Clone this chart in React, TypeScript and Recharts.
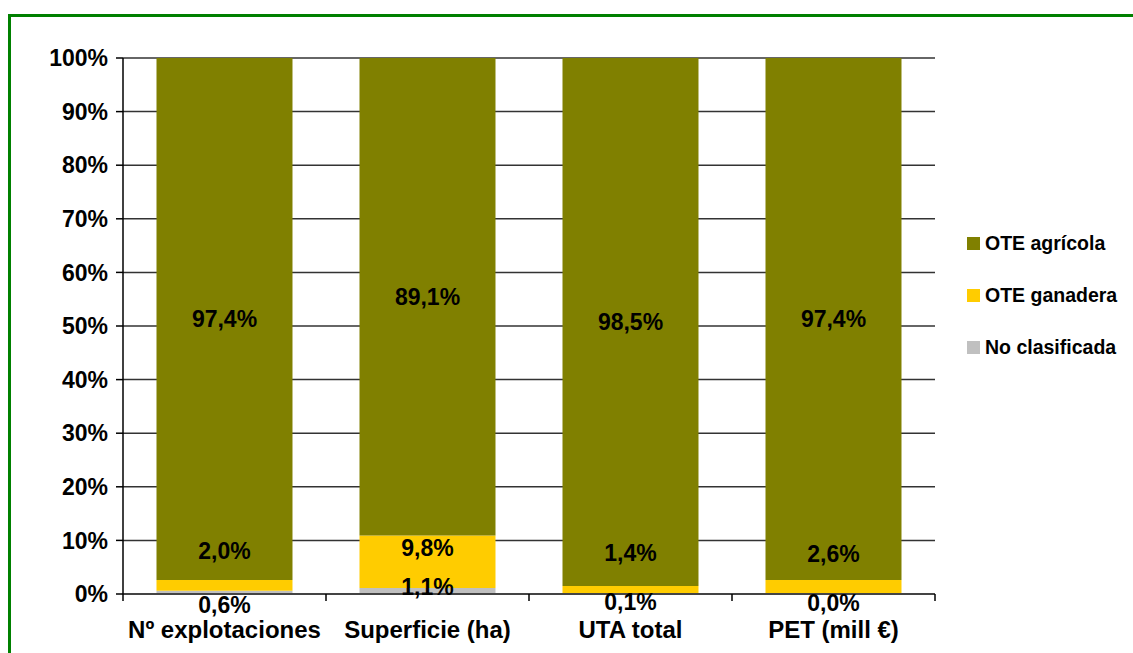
import React from 'react'
import {
  BarChart,
  Bar,
  XAxis,
  YAxis,
  CartesianGrid,
  Legend,
  LabelList,
} from 'recharts'

const categories = ['Nº explotaciones', 'Superficie (ha)', 'UTA total', 'PET (mill €)']
const noClasificada = [0.6, 1.1, 0.1, 0.0]
const oteGanadera = [2.0, 9.8, 1.4, 2.6]
const oteAgricola = [97.4, 89.1, 98.5, 97.4]
const yTicks = [0, 10, 20, 30, 40, 50, 60, 70, 80, 90, 100]

const legendItems = [
  { name: 'OTE agrícola', color: '#808000' },
  { name: 'OTE ganadera', color: '#FFCC00' },
  { name: 'No clasificada', color: '#C0C0C0' },
]

// label nudges for the tiny "No clasificada" segments (px below the base line)
const naLabelShift = [11, -7, 8, 9]

const W = 1133
const H = 653
const PLOT_LEFT = 123
const PLOT_RIGHT = 935
const BAND = (PLOT_RIGHT - PLOT_LEFT) / categories.length
const FONT = '"Liberation Sans", Arial, sans-serif'

const data = categories.map((c, i) => ({
  name: c,
  na: noClasificada[i],
  gan: oteGanadera[i],
  agr: oteAgricola[i],
}))

const fmt = (v: number) => v.toFixed(1).replace('.', ',') + '%'

const labelText = (cx: number, cy: number, v: number) => (
  <text
    x={cx}
    y={cy}
    textAnchor="middle"
    dominantBaseline="central"
    fill="#000"
    fontFamily={FONT}
    fontWeight="bold"
    fontSize={23}
  >
    {fmt(v)}
  </text>
)

const CategoryTick = (props: any) => {
  const { x, y, payload, index } = props
  const left = x - BAND / 2
  const right = x + BAND / 2
  return (
    <g>
      <line x1={left} x2={left} y1={y} y2={y + 7} stroke="#000" strokeWidth={1.5} />
      {index === categories.length - 1 && (
        <line x1={right} x2={right} y1={y} y2={y + 7} stroke="#000" strokeWidth={1.5} />
      )}
      <text
        x={x}
        y={y + 35}
        textAnchor="middle"
        dominantBaseline="central"
        fill="#000"
        fontFamily={FONT}
        fontWeight="bold"
        fontSize={24}
      >
        {payload.value}
      </text>
    </g>
  )
}

// ganadera segment also carries the "No clasificada" label, since a 0 bar gets no label
const GanLabels = (p: any) => {
  const cx = p.x + p.width / 2
  const bottom = p.y + p.height
  const pxPerUnit = p.height / p.value
  const base = bottom + noClasificada[p.index] * pxPerUnit
  return (
    <g>
      {labelText(cx, bottom - 40, p.value)}
      {labelText(cx, base + naLabelShift[p.index], noClasificada[p.index])}
    </g>
  )
}

const LegendBox = () => (
  <div style={{ fontFamily: FONT, fontWeight: 'bold', fontSize: 19.5, color: '#000' }}>
    {legendItems.map((it) => (
      <div key={it.name} style={{ display: 'flex', alignItems: 'center', height: 52 }}>
        <span
          style={{ display: 'inline-block', width: 13, height: 13, background: it.color, marginRight: 5 }}
        />
        <span>{it.name}</span>
      </div>
    ))}
  </div>
)

export default function App() {
  return (
    <div style={{ position: 'absolute', left: 0, top: 0, width: W, height: H, background: '#fff' }}>
      <div
        style={{
          position: 'absolute',
          left: 8,
          top: 14,
          width: W,
          height: H,
          borderTop: '3px solid #008000',
          borderLeft: '3px solid #008000',
        }}
      />
      <div style={{ position: 'absolute', left: 0, top: 0 }}>
        <BarChart
          width={W}
          height={H}
          data={data}
          margin={{ top: 58, right: W - PLOT_RIGHT, bottom: 19, left: 0 }}
          barCategoryGap="16.5%"
        >
          <CartesianGrid vertical={false} stroke="#333" strokeWidth={1.5} yAxisId="l" />
          <XAxis
            dataKey="name"
            height={40}
            tick={<CategoryTick />}
            tickLine={false}
            tickSize={0}
            tickMargin={0}
            interval={0}
            axisLine={{ stroke: '#444', strokeWidth: 2 }}
          />
          <YAxis
            yAxisId="l"
            width={PLOT_LEFT}
            domain={[0, 100]}
            ticks={yTicks}
            interval={0}
            tickFormatter={(v) => `${v}%`}
            tickSize={7}
            tickMargin={8}
            tickLine={{ stroke: '#000', strokeWidth: 1.5 }}
            axisLine={{ stroke: '#000', strokeWidth: 1.5 }}
            tick={{ fill: '#000', fontFamily: FONT, fontWeight: 'bold', fontSize: 23 }}
          />
          <YAxis
            yAxisId="r"
            orientation="right"
            width={0}
            domain={[0, 100]}
            tick={false}
            tickLine={false}
            axisLine={{ stroke: '#000', strokeWidth: 1.5 }}
          />
          <Legend
            layout="vertical"
            align="center"
            verticalAlign="middle"
            wrapperStyle={{ left: 967, top: 217, width: 170, height: 160 }}
            content={<LegendBox />}
          />
          <Bar dataKey="na" stackId="a" yAxisId="l" fill="#C0C0C0" isAnimationActive={false} />
          <Bar dataKey="gan" stackId="a" yAxisId="l" fill="#FFCC00" isAnimationActive={false}>
            <LabelList dataKey="gan" content={GanLabels} />
          </Bar>
          <Bar dataKey="agr" stackId="a" yAxisId="l" fill="#808000" isAnimationActive={false}>
            <LabelList
              dataKey="agr"
              content={(p: any) => labelText(p.x + p.width / 2, p.y + p.height / 2, p.value)}
            />
          </Bar>
        </BarChart>
      </div>
    </div>
  )
}
